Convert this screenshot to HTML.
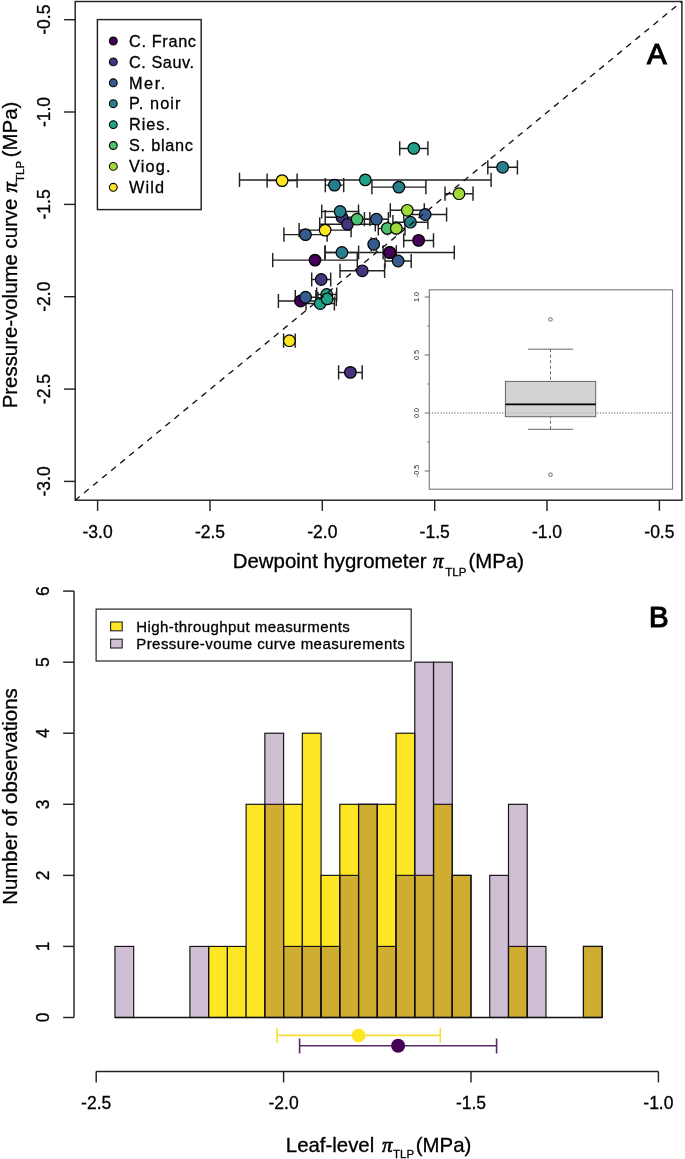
<!DOCTYPE html>
<html><head><meta charset="utf-8"><title>Figure</title><style>html,body{margin:0;padding:0;background:#fff;}svg{display:block;will-change:transform;}text{stroke:#000;stroke-width:0.3px;}text.ns{stroke:none;}</style></head><body>
<svg width="685" height="1159" viewBox="0 0 685 1159">
<rect x="0" y="0" width="685" height="1159" fill="#fff"/>
<g stroke="#222" stroke-width="1.45" fill="none">
<path d="M267.1 180.6H297.1M267.1 173.5V187.7M297.1 173.5V187.7"/>
<path d="M239.5 179.9H491.1M239.5 172.8V187.0M491.1 172.8V187.0"/>
<path d="M325.3 185.1H343.7M325.3 178.0V192.2M343.7 178.0V192.2"/>
<path d="M371.9 187.1H425.9M371.9 180.0V194.2M425.9 180.0V194.2"/>
<path d="M399.7 148.4H427.9M399.7 141.3V155.5M427.9 141.3V155.5"/>
<path d="M487.8 167.3H517.4M487.8 160.2V174.4M517.4 160.2V174.4"/>
<path d="M445.0 193.7H473.0M445.0 186.6V200.8M473.0 186.6V200.8"/>
<path d="M325.2 217.2H358.6M325.2 210.1V224.3M358.6 210.1V224.3"/>
<path d="M319.7 224.3H375.3M319.7 217.2V231.4M375.3 217.2V231.4"/>
<path d="M321.7 211.5H358.5M321.7 204.4V218.6M358.5 204.4V218.6"/>
<path d="M344.3 219.2H369.9M344.3 212.1V226.3M369.9 212.1V226.3"/>
<path d="M364.4 219.2H388.4M364.4 212.1V226.3M388.4 212.1V226.3"/>
<path d="M390.3 210.3H424.3M390.3 203.2V217.4M424.3 203.2V217.4"/>
<path d="M403.8 214.5H446.6M403.8 207.4V221.6M446.6 207.4V221.6"/>
<path d="M392.9 222.2H427.9M392.9 215.1V229.3M427.9 215.1V229.3"/>
<path d="M378.3 228.4H396.3M378.3 221.3V235.5M396.3 221.3V235.5"/>
<path d="M387.6 228.4H405.0M387.6 221.3V235.5M405.0 221.3V235.5"/>
<path d="M283.9 234.6H327.1M283.9 227.5V241.7M327.1 227.5V241.7"/>
<path d="M299.1 230.1H351.1M299.1 223.0V237.2M351.1 223.0V237.2"/>
<path d="M403.7 240.4H433.5M403.7 233.3V247.5M433.5 233.3V247.5"/>
<path d="M371.2 244.3H376.2M371.2 237.2V251.4M376.2 237.2V251.4"/>
<path d="M325.2 252.5H358.6M325.2 245.4V259.6M358.6 245.4V259.6"/>
<path d="M324.9 252.5H454.3M324.9 245.4V259.6M454.3 245.4V259.6"/>
<path d="M383.1 252.4H396.3M383.1 245.3V259.5M396.3 245.3V259.5"/>
<path d="M385.0 261.0H411.2M385.0 253.9V268.1M411.2 253.9V268.1"/>
<path d="M272.7 260.1H357.3M272.7 253.0V267.2M357.3 253.0V267.2"/>
<path d="M340.0 270.8H384.6M340.0 263.7V277.9M384.6 263.7V277.9"/>
<path d="M311.7 279.5H330.7M311.7 272.4V286.6M330.7 272.4V286.6"/>
<path d="M278.4 301.0H322.8M278.4 293.9V308.1M322.8 293.9V308.1"/>
<path d="M295.3 297.2H315.9M295.3 290.1V304.3M315.9 290.1V304.3"/>
<path d="M316.7 294.5H336.7M316.7 287.4V301.6M336.7 287.4V301.6"/>
<path d="M306.0 303.5H334.4M306.0 296.4V310.6M334.4 296.4V310.6"/>
<path d="M317.9 298.9H336.3M317.9 291.8V306.0M336.3 291.8V306.0"/>
<path d="M283.6 340.7H295.2M283.6 333.6V347.8M295.2 333.6V347.8"/>
<path d="M338.6 372.4H362.2M338.6 365.3V379.5M362.2 365.3V379.5"/>
</g>
<g stroke="#000" stroke-width="1.2">
<circle cx="282.1" cy="180.6" r="5.8" fill="#FDE725"/>
<circle cx="365.3" cy="179.9" r="5.8" fill="#1FA187"/>
<circle cx="334.5" cy="185.1" r="5.8" fill="#277F8E"/>
<circle cx="398.9" cy="187.1" r="5.8" fill="#277F8E"/>
<circle cx="413.8" cy="148.4" r="5.8" fill="#1FA187"/>
<circle cx="502.6" cy="167.3" r="5.8" fill="#277F8E"/>
<circle cx="459.0" cy="193.7" r="5.8" fill="#9FDA3A"/>
<circle cx="341.9" cy="217.2" r="5.8" fill="#46337E"/>
<circle cx="347.5" cy="224.3" r="5.8" fill="#46337E"/>
<circle cx="340.1" cy="211.5" r="5.8" fill="#277F8E"/>
<circle cx="357.1" cy="219.2" r="5.8" fill="#4AC16D"/>
<circle cx="376.4" cy="219.2" r="5.8" fill="#365C8D"/>
<circle cx="407.3" cy="210.3" r="5.8" fill="#9FDA3A"/>
<circle cx="425.2" cy="214.5" r="5.8" fill="#365C8D"/>
<circle cx="410.4" cy="222.2" r="5.8" fill="#277F8E"/>
<circle cx="387.3" cy="228.4" r="5.8" fill="#4AC16D"/>
<circle cx="396.3" cy="228.4" r="5.8" fill="#9FDA3A"/>
<circle cx="305.5" cy="234.6" r="5.8" fill="#365C8D"/>
<circle cx="325.1" cy="230.1" r="5.8" fill="#FDE725"/>
<circle cx="418.6" cy="240.4" r="5.8" fill="#440154"/>
<circle cx="373.7" cy="244.3" r="5.8" fill="#365C8D"/>
<circle cx="341.9" cy="252.5" r="5.8" fill="#277F8E"/>
<circle cx="389.6" cy="252.5" r="5.8" fill="#440154"/>
<circle cx="389.7" cy="252.4" r="5.8" fill="#440154"/>
<circle cx="398.1" cy="261.0" r="5.8" fill="#365C8D"/>
<circle cx="315.0" cy="260.1" r="5.8" fill="#440154"/>
<circle cx="362.3" cy="270.8" r="5.8" fill="#46337E"/>
<circle cx="321.2" cy="279.5" r="5.8" fill="#46337E"/>
<circle cx="300.6" cy="301.0" r="5.8" fill="#440154"/>
<circle cx="305.6" cy="297.2" r="5.8" fill="#365C8D"/>
<circle cx="326.7" cy="294.5" r="5.8" fill="#1FA187"/>
<circle cx="320.2" cy="303.5" r="5.8" fill="#1FA187"/>
<circle cx="327.1" cy="298.9" r="5.8" fill="#1FA187"/>
<circle cx="289.4" cy="340.7" r="5.8" fill="#FDE725"/>
<circle cx="350.4" cy="372.4" r="5.8" fill="#46337E"/>
</g>
<line x1="75.2" y1="500.2" x2="681.9" y2="1.5" stroke="#111" stroke-width="1.35" stroke-dasharray="6.1 5.6" stroke-dashoffset="0.3"/>
<rect x="429.3" y="289.8" width="243.2" height="199.39999999999998" fill="#fff" stroke="#777" stroke-width="1.1"/>
<g stroke="#777" stroke-width="1.1">
<line x1="424.7" y1="297.0" x2="429.3" y2="297.0"/>
<line x1="424.7" y1="355.0" x2="429.3" y2="355.0"/>
<line x1="424.7" y1="413.0" x2="429.3" y2="413.0"/>
<line x1="424.7" y1="471.0" x2="429.3" y2="471.0"/>
<line x1="427.3" y1="326.0" x2="429.3" y2="326.0"/>
<line x1="427.3" y1="384.0" x2="429.3" y2="384.0"/>
<line x1="427.3" y1="442.0" x2="429.3" y2="442.0"/>
</g>
<g font-family='"Liberation Sans", sans-serif' font-size="7.2" fill="#222" text-anchor="middle">
<text class="ns" transform="translate(419.3,297.0) rotate(-90)">1.0</text>
<text class="ns" transform="translate(419.3,355.0) rotate(-90)">0.5</text>
<text class="ns" transform="translate(419.3,413.0) rotate(-90)">0.0</text>
<text class="ns" transform="translate(419.3,471.0) rotate(-90)">-0.5</text>
</g>
<line x1="429.3" y1="413.0" x2="672.5" y2="413.0" stroke="#888" stroke-width="1" stroke-dasharray="1.2 1.6"/>
<line x1="550.5" y1="349.2" x2="550.5" y2="429.3" stroke="#666" stroke-width="1" stroke-dasharray="3 2.5"/>
<rect x="505.4" y="381.4" width="90.30000000000007" height="35.3" fill="#d3d3d3" stroke="#666" stroke-width="1"/>
<line x1="429.3" y1="413.0" x2="672.5" y2="413.0" stroke="#888" stroke-width="1" stroke-dasharray="1.2 1.6" opacity="0.6"/>
<line x1="505.4" y1="404.4" x2="595.7" y2="404.4" stroke="#000" stroke-width="1.8"/>
<g stroke="#666" stroke-width="1" fill="none">
<line x1="528.1" y1="349.2" x2="573.1" y2="349.2"/>
<line x1="528.1" y1="429.3" x2="573.1" y2="429.3"/>
<circle cx="550.5" cy="319.4" r="1.8"/>
<circle cx="550.5" cy="474.7" r="1.8"/>
</g>
<rect x="75.2" y="1.5" width="606.7" height="498.7" fill="none" stroke="#222" stroke-width="1.45"/>
<g stroke="#222" stroke-width="1.45">
<line x1="97.6" y1="500.2" x2="97.6" y2="510.9"/>
<line x1="64.1" y1="481.4" x2="75.2" y2="481.4"/>
<line x1="210.0" y1="500.2" x2="210.0" y2="510.9"/>
<line x1="64.1" y1="389.1" x2="75.2" y2="389.1"/>
<line x1="322.3" y1="500.2" x2="322.3" y2="510.9"/>
<line x1="64.1" y1="296.7" x2="75.2" y2="296.7"/>
<line x1="434.7" y1="500.2" x2="434.7" y2="510.9"/>
<line x1="64.1" y1="204.4" x2="75.2" y2="204.4"/>
<line x1="547.0" y1="500.2" x2="547.0" y2="510.9"/>
<line x1="64.1" y1="112.0" x2="75.2" y2="112.0"/>
<line x1="659.4" y1="500.2" x2="659.4" y2="510.9"/>
<line x1="64.1" y1="19.7" x2="75.2" y2="19.7"/>
</g>
<g font-family='"Liberation Sans", sans-serif' font-size="17.5" fill="#000" text-anchor="middle">
<text x="97.6" y="537.8">-3.0</text>
<text transform="translate(49.9,481.4) rotate(-90)">-3.0</text>
<text x="210.0" y="537.8">-2.5</text>
<text transform="translate(49.9,389.1) rotate(-90)">-2.5</text>
<text x="322.3" y="537.8">-2.0</text>
<text transform="translate(49.9,296.7) rotate(-90)">-2.0</text>
<text x="434.7" y="537.8">-1.5</text>
<text transform="translate(49.9,204.4) rotate(-90)">-1.5</text>
<text x="547.0" y="537.8">-1.0</text>
<text transform="translate(49.9,112.0) rotate(-90)">-1.0</text>
<text x="659.4" y="537.8">-0.5</text>
<text transform="translate(49.9,19.7) rotate(-90)">-0.5</text>
</g>
<rect x="97.4" y="19.6" width="103.8" height="190" fill="#fff" stroke="#222" stroke-width="1.45"/>
<g font-family='"Liberation Sans", sans-serif' font-size="16.3" fill="#000">
<circle cx="113.3" cy="41.0" r="3.9" fill="#440154" stroke="#000" stroke-width="1.1"/>
<text x="129.0" y="46.7" textLength="67.0" lengthAdjust="spacing">C. Franc</text>
<circle cx="113.3" cy="61.9" r="3.9" fill="#46337E" stroke="#000" stroke-width="1.1"/>
<text x="129.0" y="67.6" textLength="65.0" lengthAdjust="spacing">C. Sauv.</text>
<circle cx="113.3" cy="82.8" r="3.9" fill="#365C8D" stroke="#000" stroke-width="1.1"/>
<text x="129.0" y="88.5" textLength="36.3" lengthAdjust="spacing">Mer.</text>
<circle cx="113.3" cy="103.7" r="3.9" fill="#277F8E" stroke="#000" stroke-width="1.1"/>
<text x="129.0" y="109.4" textLength="51.5" lengthAdjust="spacing">P. noir</text>
<circle cx="113.3" cy="124.6" r="3.9" fill="#1FA187" stroke="#000" stroke-width="1.1"/>
<text x="129.0" y="130.3" textLength="41.0" lengthAdjust="spacing">Ries.</text>
<circle cx="113.3" cy="145.5" r="3.9" fill="#4AC16D" stroke="#000" stroke-width="1.1"/>
<text x="129.0" y="151.2" textLength="64.0" lengthAdjust="spacing">S. blanc</text>
<circle cx="113.3" cy="166.4" r="3.9" fill="#9FDA3A" stroke="#000" stroke-width="1.1"/>
<text x="129.0" y="172.1" textLength="41.6" lengthAdjust="spacing">Viog.</text>
<circle cx="113.3" cy="187.3" r="3.9" fill="#FDE725" stroke="#000" stroke-width="1.1"/>
<text x="129.0" y="193.0" textLength="35.0" lengthAdjust="spacing">Wild</text>
</g>
<text x="656.8" y="64.2" font-family='"Liberation Sans", sans-serif' font-size="29.4" text-anchor="middle" style="stroke-width:1.2px">A</text>
<g font-family='"Liberation Sans", sans-serif' font-size="20.4" fill="#000">
<text x="232.8" y="567.8">Dewpoint hygrometer</text>
<text x="433.0" y="567.8" font-family='"Liberation Serif", serif' font-style="italic" font-size="21" style="stroke-width:0.6px">&#960;</text>
<text x="445.3" y="575.5" font-size="11.5">TLP</text>
<text x="468.5" y="567.8">(MPa)</text>
</g>
<g font-family='"Liberation Sans", sans-serif' font-size="20.4" fill="#000" transform="translate(16.9,0) rotate(-90)">
<text x="-408.3" y="0">Pressure-volume curve</text>
<text x="-192.5" y="0" font-family='"Liberation Serif", serif' font-style="italic" font-size="21" style="stroke-width:0.6px">&#960;</text>
<text x="-182.0" y="7.2" font-size="11.5">TLP</text>
<text x="-157.2" y="0">(MPa)</text>
</g>
<g stroke="#111" stroke-width="1.15">
<rect x="114.94" y="1017.50" width="18.74" height="0.00" fill="#FDE725"/>
<rect x="133.68" y="1017.50" width="18.74" height="0.00" fill="#FDE725"/>
<rect x="152.42" y="1017.50" width="18.74" height="0.00" fill="#FDE725"/>
<rect x="171.16" y="1017.50" width="18.74" height="0.00" fill="#FDE725"/>
<rect x="189.90" y="1017.50" width="18.74" height="0.00" fill="#FDE725"/>
<rect x="208.64" y="946.43" width="18.74" height="71.07" fill="#FDE725"/>
<rect x="227.38" y="946.43" width="18.74" height="71.07" fill="#FDE725"/>
<rect x="246.12" y="804.30" width="18.74" height="213.20" fill="#FDE725"/>
<rect x="264.86" y="804.30" width="18.74" height="213.20" fill="#FDE725"/>
<rect x="283.60" y="804.30" width="18.74" height="213.20" fill="#FDE725"/>
<rect x="302.34" y="733.23" width="18.74" height="284.27" fill="#FDE725"/>
<rect x="321.08" y="875.37" width="18.74" height="142.13" fill="#FDE725"/>
<rect x="339.82" y="804.30" width="18.74" height="213.20" fill="#FDE725"/>
<rect x="358.56" y="804.30" width="18.74" height="213.20" fill="#FDE725"/>
<rect x="377.30" y="804.30" width="18.74" height="213.20" fill="#FDE725"/>
<rect x="396.04" y="733.23" width="18.74" height="284.27" fill="#FDE725"/>
<rect x="414.78" y="875.37" width="18.74" height="142.13" fill="#FDE725"/>
<rect x="433.52" y="804.30" width="18.74" height="213.20" fill="#FDE725"/>
<rect x="452.26" y="875.37" width="18.74" height="142.13" fill="#FDE725"/>
<rect x="471.00" y="1017.50" width="18.74" height="0.00" fill="#FDE725"/>
<rect x="489.74" y="1017.50" width="18.74" height="0.00" fill="#FDE725"/>
<rect x="508.48" y="946.43" width="18.74" height="71.07" fill="#FDE725"/>
<rect x="527.22" y="1017.50" width="18.74" height="0.00" fill="#FDE725"/>
<rect x="545.96" y="1017.50" width="18.74" height="0.00" fill="#FDE725"/>
<rect x="564.70" y="1017.50" width="18.74" height="0.00" fill="#FDE725"/>
<rect x="583.44" y="946.43" width="18.74" height="71.07" fill="#FDE725"/>
<rect x="114.94" y="946.43" width="18.74" height="71.07" fill="rgba(68,1,84,0.25)"/>
<rect x="133.68" y="1017.50" width="18.74" height="0.00" fill="rgba(68,1,84,0.25)"/>
<rect x="152.42" y="1017.50" width="18.74" height="0.00" fill="rgba(68,1,84,0.25)"/>
<rect x="171.16" y="1017.50" width="18.74" height="0.00" fill="rgba(68,1,84,0.25)"/>
<rect x="189.90" y="946.43" width="18.74" height="71.07" fill="rgba(68,1,84,0.25)"/>
<rect x="208.64" y="1017.50" width="18.74" height="0.00" fill="rgba(68,1,84,0.25)"/>
<rect x="227.38" y="1017.50" width="18.74" height="0.00" fill="rgba(68,1,84,0.25)"/>
<rect x="246.12" y="1017.50" width="18.74" height="0.00" fill="rgba(68,1,84,0.25)"/>
<rect x="264.86" y="733.23" width="18.74" height="284.27" fill="rgba(68,1,84,0.25)"/>
<rect x="283.60" y="946.43" width="18.74" height="71.07" fill="rgba(68,1,84,0.25)"/>
<rect x="302.34" y="946.43" width="18.74" height="71.07" fill="rgba(68,1,84,0.25)"/>
<rect x="321.08" y="946.43" width="18.74" height="71.07" fill="rgba(68,1,84,0.25)"/>
<rect x="339.82" y="875.37" width="18.74" height="142.13" fill="rgba(68,1,84,0.25)"/>
<rect x="358.56" y="804.30" width="18.74" height="213.20" fill="rgba(68,1,84,0.25)"/>
<rect x="377.30" y="946.43" width="18.74" height="71.07" fill="rgba(68,1,84,0.25)"/>
<rect x="396.04" y="875.37" width="18.74" height="142.13" fill="rgba(68,1,84,0.25)"/>
<rect x="414.78" y="662.17" width="18.74" height="355.33" fill="rgba(68,1,84,0.25)"/>
<rect x="433.52" y="662.17" width="18.74" height="355.33" fill="rgba(68,1,84,0.25)"/>
<rect x="452.26" y="875.37" width="18.74" height="142.13" fill="rgba(68,1,84,0.25)"/>
<rect x="471.00" y="1017.50" width="18.74" height="0.00" fill="rgba(68,1,84,0.25)"/>
<rect x="489.74" y="875.37" width="18.74" height="142.13" fill="rgba(68,1,84,0.25)"/>
<rect x="508.48" y="804.30" width="18.74" height="213.20" fill="rgba(68,1,84,0.25)"/>
<rect x="527.22" y="946.43" width="18.74" height="71.07" fill="rgba(68,1,84,0.25)"/>
<rect x="545.96" y="1017.50" width="18.74" height="0.00" fill="rgba(68,1,84,0.25)"/>
<rect x="564.70" y="1017.50" width="18.74" height="0.00" fill="rgba(68,1,84,0.25)"/>
<rect x="583.44" y="946.43" width="18.74" height="71.07" fill="rgba(68,1,84,0.25)"/>
</g>
<line x1="114.94" y1="1017.50" x2="602.18" y2="1017.50" stroke="#111" stroke-width="1.3"/>
<rect x="96.1" y="609.1" width="315.1" height="51.9" fill="#fff" stroke="#222" stroke-width="1.2"/>
<rect x="110.6" y="622.0" width="11.6" height="8.8" fill="#FDE725" stroke="#222" stroke-width="1.1"/>
<rect x="110.6" y="639.2" width="11.6" height="8.8" fill="rgb(208,191,212)" stroke="#222" stroke-width="1.1"/>
<g font-family='"Liberation Sans", sans-serif' font-size="15" fill="#000">
<text x="136.2" y="631.8" textLength="213.6" lengthAdjust="spacing">High-throughput measurments</text>
<text x="136.2" y="649.3" textLength="268.6" lengthAdjust="spacing">Pressure-voume curve measurements</text>
</g>
<g stroke-width="1.6" fill="none">
<path d="M277.1 1035.4H440.3M277.1 1027.8V1043M440.3 1027.8V1043" stroke="#F5E03A"/>
<path d="M299.6 1045.8H496.6M299.6 1038.4V1053.4M496.6 1038.4V1053.4" stroke="#5B2A6B"/>
</g>
<circle cx="358.6" cy="1035.4" r="7" fill="#FDE725"/>
<circle cx="398.1" cy="1045.7" r="7" fill="#440154"/>
<g stroke="#222" stroke-width="1.45" fill="none">
<path d="M96.2 1071.5H658.4"/>
<line x1="96.2" y1="1071.5" x2="96.2" y2="1082.4"/>
<line x1="283.6" y1="1071.5" x2="283.6" y2="1082.4"/>
<line x1="471.0" y1="1071.5" x2="471.0" y2="1082.4"/>
<line x1="658.4" y1="1071.5" x2="658.4" y2="1082.4"/>
<path d="M74.0 1017.5V591.1"/>
<line x1="63.1" y1="1017.5" x2="74.0" y2="1017.5"/>
<line x1="63.1" y1="946.4" x2="74.0" y2="946.4"/>
<line x1="63.1" y1="875.4" x2="74.0" y2="875.4"/>
<line x1="63.1" y1="804.3" x2="74.0" y2="804.3"/>
<line x1="63.1" y1="733.2" x2="74.0" y2="733.2"/>
<line x1="63.1" y1="662.2" x2="74.0" y2="662.2"/>
<line x1="63.1" y1="591.1" x2="74.0" y2="591.1"/>
</g>
<g font-family='"Liberation Sans", sans-serif' font-size="17.5" fill="#000" text-anchor="middle">
<text x="96.2" y="1109.4">-2.5</text>
<text x="283.6" y="1109.4">-2.0</text>
<text x="471.0" y="1109.4">-1.5</text>
<text x="658.4" y="1109.4">-1.0</text>
<text transform="translate(48.9,1017.5) rotate(-90)">0</text>
<text transform="translate(48.9,946.4) rotate(-90)">1</text>
<text transform="translate(48.9,875.4) rotate(-90)">2</text>
<text transform="translate(48.9,804.3) rotate(-90)">3</text>
<text transform="translate(48.9,733.2) rotate(-90)">4</text>
<text transform="translate(48.9,662.2) rotate(-90)">5</text>
<text transform="translate(48.9,591.1) rotate(-90)">6</text>
</g>
<text x="658.7" y="626.9" font-family='"Liberation Sans", sans-serif' font-size="29.4" text-anchor="middle" style="stroke-width:1.2px">B</text>
<g font-family='"Liberation Sans", sans-serif' font-size="20.4" fill="#000">
<text x="285.8" y="1151.6">Leaf-level</text>
<text x="382.0" y="1151.6" font-family='"Liberation Serif", serif' font-style="italic" font-size="21" style="stroke-width:0.6px">&#960;</text>
<text x="393.0" y="1158.4" font-size="11.5">TLP</text>
<text x="415.8" y="1151.6">(MPa)</text>
</g>
<text transform="translate(16.9,796.5) rotate(-90)" font-family='"Liberation Sans", sans-serif' font-size="20.4" text-anchor="middle">Number of observations</text>
</svg>
</body></html>
